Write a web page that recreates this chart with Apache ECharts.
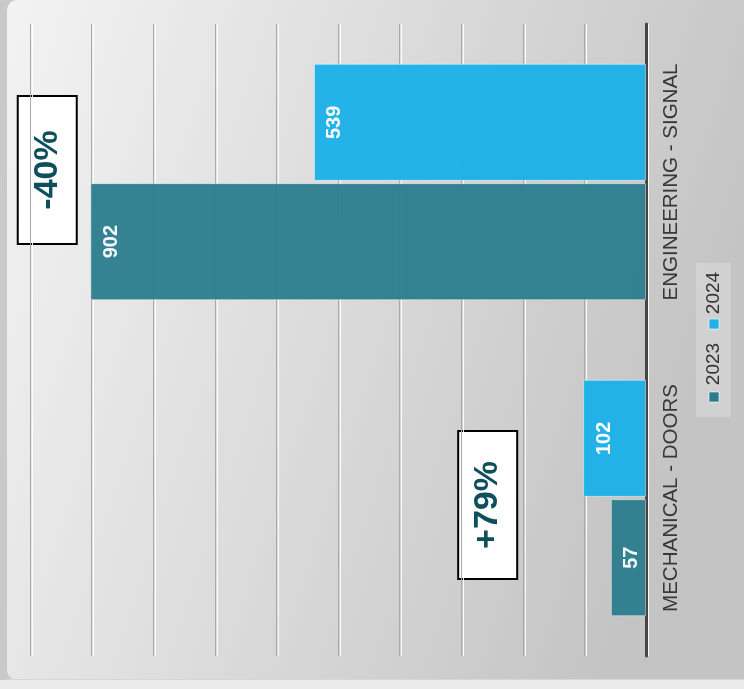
<!DOCTYPE html>
<html>
<head>
<meta charset="utf-8">
<script src="https://cdn.jsdelivr.net/npm/echarts@6/dist/echarts.min.js"></script>
<style>
html,body{margin:0;padding:0;background:#c9c9c9;}
#c{width:744px;height:689px;}
</style>
</head>
<body>
<div id="c"></div>
<script>
// ---- data ----
const categories = ['MECHANICAL - DOORS', 'ENGINEERING - SIGNAL'];
const seriesNames = ['2023', '2024'];
const values2023 = [57, 902];
const values2024 = [102, 539];
const annotationTexts = ['+79%', '-40%'];
const annotationValues = [257, 972];   // value-axis location of each callout
const valueTicks = [0, 100, 200, 300, 400, 500, 600, 700, 800, 900, 1000];

const colors = ['#2b7c8d', '#1fb1e8'];
const FONT = 'Liberation Sans, Arial, sans-serif';
const calloutShift = [7, -12]; // small pixel nudges of callouts from band centre

const chart = echarts.init(document.getElementById('c'), null, {renderer: 'canvas'});

const bgGraphics = [
  {type: 'rect', z: -20, silent: true, shape: {x: 0, y: 0, width: 744, height: 689}, style: {fill: '#c9c9c9'}},
  {type: 'rect', z: -19, silent: true, shape: {x: 0, y: 680, width: 744, height: 9}, style: {fill: '#ebebeb'}},
  {type: 'rect', z: -18, silent: true, shape: {x: 7, y: 0, width: 737, height: 680, r: [10, 0, 0, 10]},
    style: {fill: new echarts.graphic.LinearGradient(0, 0, 1, 0.35, [
      {offset: 0, color: '#f3f3f3'},
      {offset: 0.45, color: '#dedede'},
      {offset: 1, color: '#c4c4c4'}
    ])}},
  {type: 'rect', z: -18, silent: true, shape: {x: 7, y: 679, width: 737, height: 1}, style: {fill: '#d6d6d6'}}
];

// legend (rotated, as in the reference)
const legendGraphics = [
  {type: 'rect', silent: true, shape: {x: 696, y: 263, width: 35, height: 154}, style: {fill: 'rgba(255,255,255,0.22)'}},
  {type: 'rect', silent: true, shape: {x: 709, y: 392, width: 10, height: 10}, style: {fill: colors[0], stroke: 'rgba(255,255,255,0.6)', lineWidth: 1}},
  {type: 'text', silent: true, x: 714, y: 364, rotation: Math.PI / 2,
    style: {text: seriesNames[0], fontSize: 19, fontFamily: FONT, fill: '#333', align: 'center', verticalAlign: 'middle'}},
  {type: 'rect', silent: true, shape: {x: 709, y: 319, width: 10, height: 10}, style: {fill: colors[1], stroke: 'rgba(255,255,255,0.6)', lineWidth: 1}},
  {type: 'text', silent: true, x: 714, y: 293, rotation: Math.PI / 2,
    style: {text: seriesNames[1], fontSize: 19, fontFamily: FONT, fill: '#333', align: 'center', verticalAlign: 'middle'}}
];

const barLabel = {
  show: true,
  position: 'insideLeft',
  distance: 21,
  rotate: 90,
  align: 'center',
  verticalAlign: 'middle',
  color: '#fff',
  fontWeight: 'bold',
  fontSize: 20,
  fontFamily: FONT
};

chart.setOption({
  animation: false,
  textStyle: {fontFamily: FONT},
  grid: {left: 30, right: 98, top: 24, bottom: 33, containLabel: false},
  xAxis: {
    type: 'value',
    inverse: true,
    min: valueTicks[0],
    max: valueTicks[valueTicks.length - 1],
    interval: valueTicks[1] - valueTicks[0],
    axisLabel: {show: false},
    axisLine: {show: false},
    axisTick: {show: false},
    splitLine: {show: true, lineStyle: {color: '#a9a9a9', width: 1, shadowColor: 'rgba(255,255,255,0.9)', shadowOffsetX: 2, shadowBlur: 0}}
  },
  yAxis: {
    type: 'category',
    position: 'right',
    data: categories,
    axisLine: {show: true, lineStyle: {color: '#454545', width: 3}},
    axisTick: {show: false},
    axisLabel: {rotate: 90, fontSize: 20.5, color: '#383838', margin: 15, fontFamily: FONT}
  },
  series: [
    {name: seriesNames[1], type: 'bar', data: values2024, barWidth: 117, barGap: '2%',
      itemStyle: {color: colors[1], opacity: 0.98, borderColor: 'rgba(255,255,255,0.45)', borderWidth: 1},
      label: barLabel},
    {name: seriesNames[0], type: 'bar', data: values2023, barWidth: 117, barGap: '2%',
      itemStyle: {color: colors[0], opacity: 0.95, borderColor: 'rgba(255,255,255,0.45)', borderWidth: 1},
      label: barLabel}
  ],
  graphic: bgGraphics.concat(legendGraphics)
});

// callout boxes placed through the chart's own scales
const calloutGraphics = annotationTexts.map(function (t, i) {
  const p = chart.convertToPixel({gridIndex: 0}, [annotationValues[i], i]);
  const w = 59, h = 148;
  return {
    type: 'group', x: p[0], y: p[1] + calloutShift[i],
    children: [
      {type: 'rect', shape: {x: -w / 2, y: -h / 2, width: w, height: h}, style: {fill: '#fff', stroke: '#000', lineWidth: 2}},
      {type: 'text', x: 0, y: 0, rotation: Math.PI / 2,
        style: {text: t, fontSize: 34, fontWeight: 'bold', fontFamily: FONT, fill: '#0e4f5c', align: 'center', verticalAlign: 'middle'}}
    ]
  };
});
chart.setOption({graphic: bgGraphics.concat(legendGraphics, calloutGraphics)});
</script>
</body>
</html>
